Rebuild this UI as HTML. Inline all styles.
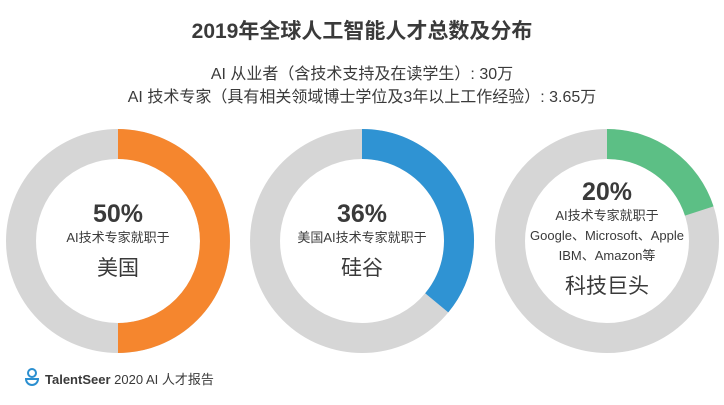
<!DOCTYPE html>
<html><head><meta charset="utf-8"><style>
body{margin:0;width:724px;height:400px;background:#fff;overflow:hidden;font-family:"Liberation Sans","Noto Sans CJK SC",sans-serif;color:#3a3a3a}
svg text{font-family:"Liberation Sans","Noto Sans CJK SC",sans-serif;fill:#3a3a3a}
</style></head><body>
<svg width="724" height="400">
<text x="362" y="38" text-anchor="middle" font-size="21" font-weight="bold">2019年全球人工智能人才总数及分布</text>
<text x="362" y="79" text-anchor="middle" font-size="16">AI 从业者（含技术支持及在读学生）: 30万</text>
<text x="362" y="102" text-anchor="middle" font-size="16">AI 技术专家（具有相关领域博士学位及3年以上工作经验）: 3.65万</text>
<g id="donuts"></g>
<g>
<circle cx="32" cy="373" r="4" fill="none" stroke="#2b8fd0" stroke-width="2"/>
<path d="M26 379 a6 6 0 0 0 12 0 z" fill="none" stroke="#2b8fd0" stroke-width="2"/>
</g>
<text x="45" y="384" font-size="13" font-weight="bold">TalentSeer <tspan font-weight="normal">2020 AI 人才报告</tspan></text>
</svg>
<script>
const categories=["美国","硅谷","科技巨头"];
const values=[50,36,20];
const colors=["#f5862e","#2f93d3","#5cbf85"];
const captions=[["AI技术专家就职于"],["美国AI技术专家就职于"],["AI技术专家就职于","Google、Microsoft、Apple","IBM、Amazon等"]];
const ns="http://www.w3.org/2000/svg";
const g=document.getElementById('donuts');
const cxs=[118,362,607], cy=241, R=97, W=30;
function arc(cx,pct){
  const a=pct/100*2*Math.PI;
  const x=cx+R*Math.sin(a), y=cy-R*Math.cos(a);
  return `M${cx} ${cy-R} A${R} ${R} 0 ${pct>50?1:0} 1 ${x} ${y}`;
}
values.forEach((v,i)=>{
  const cx=cxs[i];
  const bg=document.createElementNS(ns,'circle');
  bg.setAttribute('cx',cx);bg.setAttribute('cy',cy);bg.setAttribute('r',R);
  bg.setAttribute('fill','none');bg.setAttribute('stroke','#d6d6d6');bg.setAttribute('stroke-width',W);
  
  
  g.appendChild(bg);
  const p=document.createElementNS(ns,'path');
  p.setAttribute('d',arc(cx,v));p.setAttribute('fill','none');p.setAttribute('stroke',colors[i]);p.setAttribute('stroke-width',W);
  
  
  g.appendChild(p);
  const n=captions[i].length;
  const top= n>1?188:210;
  const t=document.createElementNS(ns,'text');
  t.setAttribute('x',cx);t.setAttribute('y',top+12);t.setAttribute('text-anchor','middle');
  t.setAttribute('font-size','25');t.setAttribute('font-weight','bold');t.textContent=v+'%';
  
  
  g.appendChild(t);
  captions[i].forEach((c,j)=>{
    const s=document.createElementNS(ns,'text');
    s.setAttribute('x',cx);s.setAttribute('y',top+32+j*20);s.setAttribute('text-anchor','middle');
    s.setAttribute('font-size','13');s.textContent=c;
    
    
    g.appendChild(s);
  });
  const l=document.createElementNS(ns,'text');
  l.setAttribute('x',cx);l.setAttribute('y',top+32+(n-1)*20+33);l.setAttribute('text-anchor','middle');
  l.setAttribute('font-size','21');l.textContent=categories[i];
  
  
  g.appendChild(l);
});
</script>
</body></html>
